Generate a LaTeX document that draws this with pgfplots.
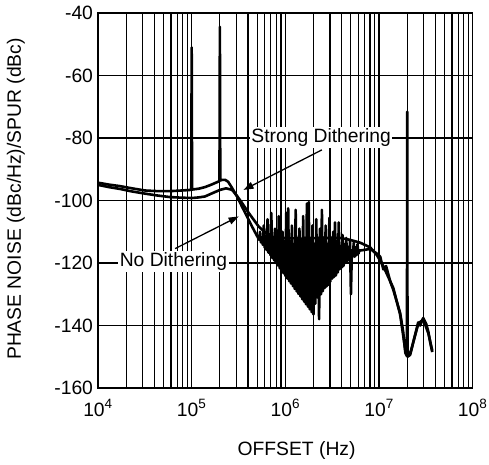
\documentclass[border=0pt]{standalone}
\usepackage{fontspec}
\setmainfont{Liberation Sans}
\usepackage{pgfplots}
\pgfplotsset{compat=1.18}
\usetikzlibrary{arrows.meta}
\newcommand\lblfont{\fontsize{19.3}{23}\selectfont}

\begin{document}
\begin{tikzpicture}
\path[use as bounding box] (-98pt,-76pt) rectangle (391pt,388pt);
\begin{axis}[
  xmode=log, scale only axis,
  width=374.7pt, height=375pt,
  xmin=1e4, xmax=1e8, ymin=-160, ymax=-40,
  ytick={-160,-140,...,-40},
  yticklabels={-160,-140,-120,-100,-80,-60,-40},
  xticklabels={10\textsuperscript{4},10\textsuperscript{5},10\textsuperscript{6},10\textsuperscript{7},10\textsuperscript{8}},
  grid=both,
  major grid style={black, line width=1.2pt},
  minor grid style={black, line width=1.2pt},
  axis line style={line width=1.4pt},
  major tick length=0pt, minor tick length=0pt,
  tick label style={font=\lblfont},
  xticklabel style={yshift=-8pt},
  yticklabel style={xshift=-1.5pt},
  label style={font=\lblfont},
  xlabel={OFFSET (Hz)},
  ylabel={PHASE NOISE (dBc/Hz)/SPUR (dBc)},
  xlabel style={at={(axis description cs:0.530,-0.1787)}, anchor=base},
  ylabel style={at={(axis description cs:-0.2055,0.504)}, anchor=base},
]
% no dithering
\addplot[black, line width=2.6pt, line join=round] coordinates {
(1e4,-94.3) (1.3e4,-94.9) (1.72e4,-95.4) (2.3e4,-96.1) (3.18e4,-96.8)
(4.3e4,-97.0) (5.87e4,-97.0) (7.8e4,-96.8) (9.9e4,-96.6) (1e5,-51) (1.01e5,-96.5)
(1.2e5,-96.2) (1.39e5,-95.7) (1.6e5,-95.0) (1.78e5,-94.4) (1.98e5,-93.8)
(2e5,-44.4) (2.02e5,-93.6) (2.11e5,-93.4) (2.28e5,-93.4) (2.45e5,-94.0)
(2.7e5,-96.0) (3.06e5,-98.8) (3.45e5,-102.0) (3.91e5,-105.2) (4.42e5,-108.4)
(5.248e5,-112.6) (5.370e5,-110) (5.495e5,-113.4) (5.623e5,-113) (5.754e5,-114.2)
(5.888e5,-108) (6.026e5,-115.1) (6.166e5,-114) (6.310e5,-115.9) (6.457e5,-106)
(6.607e5,-116.7) (6.761e5,-113) (6.918e5,-117.5) (7.079e5,-104) (7.244e5,-118.4)
(7.413e5,-114) (7.586e5,-119.2) (7.762e5,-109) (7.943e5,-120.0) (8.128e5,-112)
(8.318e5,-120.8) (8.511e5,-105) (8.710e5,-121.7) (8.913e5,-114) (9.120e5,-122.5)
(9.333e5,-110) (9.550e5,-123.3) (9.772e5,-113) (1e6,-124.1) (1.023e6,-104)
(1.047e6,-125.0) (1.072e6,-102.5) (1.096e6,-125.8) (1.122e6,-113) (1.148e6,-126.6)
(1.175e6,-108) (1.202e6,-127.4) (1.230e6,-114) (1.259e6,-128.3) (1.288e6,-103)
(1.318e6,-129.1) (1.349e6,-112) (1.380e6,-129.9) (1.413e6,-109) (1.445e6,-130.7)
(1.479e6,-113) (1.514e6,-131.6) (1.549e6,-105) (1.585e6,-132.4) (1.622e6,-112)
(1.660e6,-133.2) (1.698e6,-101) (1.738e6,-134.0) (1.778e6,-100.5) (1.820e6,-134.8)
(1.862e6,-112) (1.905e6,-135.7) (1.950e6,-108) (1.995e6,-136.5) (2.042e6,-114)
(2.089e6,-133) (2.138e6,-106) (2.188e6,-131) (2.239e6,-112) (2.291e6,-138)
(2.344e6,-109) (2.399e6,-130) (2.455e6,-103) (2.512e6,-129) (2.570e6,-112)
(2.630e6,-128) (2.692e6,-108) (2.754e6,-127.5) (2.818e6,-114) (2.884e6,-127)
(2.951e6,-105.5) (3.020e6,-126) (3.090e6,-112) (3.162e6,-125) (3.236e6,-110)
(3.311e6,-124.5) (3.388e6,-107) (3.467e6,-124) (3.548e6,-113) (3.631e6,-123)
(3.715e6,-107) (3.802e6,-122) (3.890e6,-115) (3.981e6,-121.5) (4.074e6,-111)
(4.169e6,-121) (4.266e6,-114) (4.365e6,-120) (4.467e6,-112) (4.571e6,-119.5)
(4.677e6,-115) (4.786e6,-119) (4.898e6,-113) (5.012e6,-130) (5.129e6,-116)
(5.248e6,-118) (5.370e6,-113.5) (5.495e6,-118) (5.623e6,-115) (5.754e6,-117.5)
(5.888e6,-114) (6.026e6,-117) (6.166e6,-116) (6.310e6,-116)
(8.05e6,-115.5) (9.5e6,-117) (1.03e7,-118) (1.11e7,-122) (1.19e7,-121)
(1.32e7,-126) (1.42e7,-128.6) (1.57e7,-133) (1.68e7,-136) (1.81e7,-142)
(1.91e7,-148.8) (1.986e7,-149.8) (2.0e7,-71.6) (2.014e7,-150) (2.15e7,-149.4)
(2.38e7,-144) (2.62e7,-139) (2.75e7,-140) (2.96e7,-137.6) (3.19e7,-139.5)
(3.36e7,-142) (3.55e7,-146) (3.7e7,-148.5)
};
% strong dithering
\addplot[black, line width=2.6pt, line join=round] coordinates {
(1e4,-95.0) (1.3e4,-95.7) (1.72e4,-96.3) (2.3e4,-97.1) (3.18e4,-97.8)
(4.3e4,-98.4) (5.87e4,-98.9) (7.8e4,-99.1) (1.01e5,-99.2) (1.2e5,-99.0)
(1.39e5,-98.7) (1.65e5,-97.7) (2.01e5,-96.6) (2.33e5,-96.1) (2.7e5,-96.6)
(3.06e5,-98.6) (3.45e5,-100.8) (4.07e5,-104.0) (5.21e5,-108.4) (6.88e5,-111.6)
(9.95e5,-112.0) (1.44e6,-112.2) (2.35e6,-112.0) (3.85e6,-112.0) (4.92e6,-112.6)
(6.29e6,-113.5) (8.05e6,-115) (9.5e6,-117.5) (1.11e7,-121) (1.42e7,-128)
(1.68e7,-136.5) (1.91e7,-148) (2.15e7,-149) (2.62e7,-139.5) (2.96e7,-138)
(3.36e7,-142.5) (3.7e7,-148)
};
\node[fill=white, inner sep=1.5pt, font=\lblfont] at (axis cs:2.41e6,-79.7) {Strong Dithering};
\node[fill=white, inner sep=1.5pt, font=\lblfont] at (axis cs:6.38e4,-119.5) {No Dithering};
\draw[-{Triangle[length=10pt,width=7pt]}, line width=1.3pt]
  (axis cs:2.455e6,-83.8) -- (axis cs:3.58e5,-96.6);
\draw[-{Triangle[length=10pt,width=7pt]}, line width=1.3pt]
  (axis cs:6.65e4,-115.4) -- (axis cs:3.17e5,-105.1);
\end{axis}
\end{tikzpicture}
\end{document}
